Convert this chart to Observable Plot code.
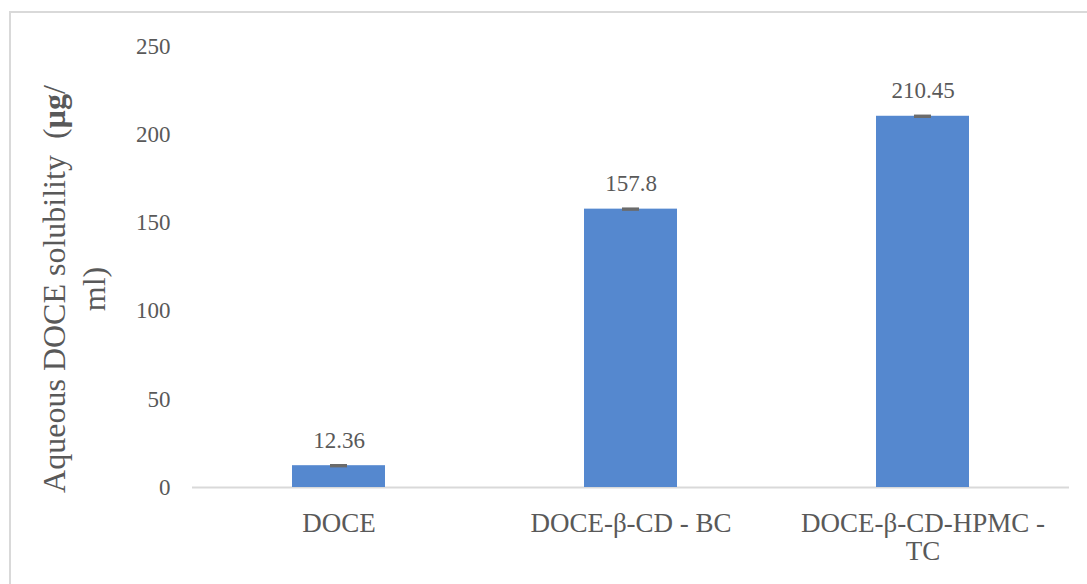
<!DOCTYPE html>
<html>
<head>
<meta charset="utf-8">
<script src="https://cdn.jsdelivr.net/npm/d3@7"></script>
<script src="https://cdn.jsdelivr.net/npm/@observablehq/plot@0.6"></script>
<style>
  html, body { margin: 0; padding: 0; background: #fff; overflow: hidden; }
  #wrap { position: relative; width: 1087px; height: 584px; }
  #frame { position: absolute; left: 9px; top: 11px; width: 1100px; height: 600px; border: 2px solid #d9d9d9; box-sizing: border-box; }
  #chart { position: absolute; left: 0; top: 0; }
  #chart svg, #chart svg text, #chart svg tspan { font-family: "Liberation Serif", "DejaVu Serif", serif !important; }
</style>
</head>
<body>
<div id="wrap"><div id="frame"></div><div id="chart"></div></div>
<script>
const categories = ["DOCE", "DOCE-β-CD - BC", "DOCE-β-CD-HPMC - TC"];
const categoryLabels = ["DOCE", "DOCE-β-CD - BC", "DOCE-β-CD-HPMC -\nTC"];
const values = [12.36, 157.8, 210.45];
const errors = [0.4, 0.4, 0.4];
const valueLabels = ["12.36", "157.8", "210.45"];
const yTicks = [0, 50, 100, 150, 200, 250];
const yLabel = "Aqueous DOCE solubility  (µg/\nml)";

const data = categories.map((c, i) => ({cat: c, value: values[i], err: errors[i], label: valueLabels[i]}));
const labelMap = new Map(categories.map((c, i) => [c, categoryLabels[i]]));

const textColor = "#595959";
const font = "'Liberation Serif', 'DejaVu Serif', serif";

const chart = Plot.plot({
  width: 1087,
  height: 584,
  marginLeft: 192,
  marginRight: 18,
  marginTop: 46,
  marginBottom: 97,
  style: {fontFamily: font, color: textColor, background: "transparent"},
  x: {domain: categories, paddingInner: 0.68, paddingOuter: 0.34, label: null},
  y: {domain: [0, 250], label: null},
  marks: [
    Plot.axisY({ticks: yTicks, tickSize: 0, tickPadding: 22, fontSize: 23, fill: textColor, label: null}),
    Plot.axisX({tickSize: 0, tickPadding: 24, fontSize: 27, lineHeight: 1.05, fill: textColor, label: null,
      tickFormat: d => labelMap.get(d)}),
    Plot.ruleY([0], {stroke: "#d9d9d9", strokeWidth: 2}),
    Plot.barY(data, {x: "cat", y: "value", fill: "#5588cf"}),
    Plot.ruleX(data, {x: "cat", y1: d => d.value - d.err, y2: d => d.value + d.err, stroke: "#6b6b6b", strokeWidth: 1.5}),
    Plot.tickY(data, {x: "cat", y: d => d.value + d.err, stroke: "#6b6b6b", strokeWidth: 2, insetLeft: 38, insetRight: 38}),
    Plot.tickY(data, {x: "cat", y: d => d.value - d.err, stroke: "#6b6b6b", strokeWidth: 2, insetLeft: 38, insetRight: 38}),
    Plot.text(data, {x: "cat", y: "value", text: "label", lineAnchor: "bottom", dy: -18, fontSize: 23, fill: textColor}),
    Plot.text([yLabel], {frameAnchor: "left", text: d => d, textAnchor: "middle", rotate: -90, dx: -120, dy: 22, fontSize: 32, lineHeight: 1.25, fill: textColor})
  ]
});
document.getElementById("chart").appendChild(chart);

// embolden the unit symbol as in the reference
chart.querySelectorAll("tspan, text").forEach(el => {
  if (el.childNodes.length === 1 && el.firstChild.nodeType === 3 && el.textContent.includes("(µg/")) {
    const t = el.textContent;
    const i = t.indexOf("µg");
    el.textContent = "";
    const ns = "http://www.w3.org/2000/svg";
    const a = document.createElementNS(ns, "tspan"); a.textContent = t.slice(0, i);
    const b = document.createElementNS(ns, "tspan"); b.textContent = "µg"; b.setAttribute("font-weight", "bold");
    const c = document.createElementNS(ns, "tspan"); c.textContent = t.slice(i + 2);
    el.appendChild(a); el.appendChild(b); el.appendChild(c);
  }
});
</script>
</body>
</html>
